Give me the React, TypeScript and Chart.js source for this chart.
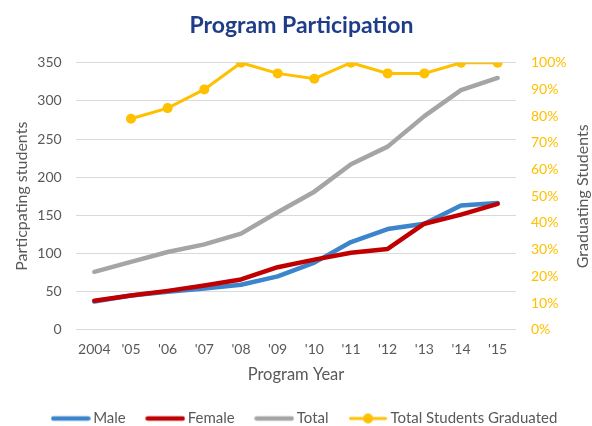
import React, { useEffect, useRef } from "react";
import { Chart, registerables } from "chart.js";

Chart.register(...registerables);

const years = ["2004", "'05", "'06", "'07", "'08", "'09", "'10", "'11", "'12", "'13", "'14", "'15"];
const male = [37, 45, 50, 54, 59, 70, 88, 115, 132, 139, 163, 166];
const female = [38, 45, 51, 58, 66, 82, 92, 101, 106, 139, 151, 165];
const total = [76, 89, 102, 112, 126, 154, 181, 217, 240, 280, 314, 330];
const graduated = [null, 0.79, 0.83, 0.9, 1.0, 0.96, 0.94, 1.0, 0.96, 0.96, 1.0, 1.0];

const seriesNames = ["Male", "Female", "Total", "Total Students Graduated"];
const seriesColors = ["#3C85CC", "#C00000", "#A5A5A5", "#FFC000"];

const FONT = "Lato, 'Open Sans', sans-serif";
const GRAY_TEXT = "#595959";

function legendSwatch(color: string, dot: boolean): HTMLCanvasElement {
  const c = document.createElement("canvas");
  c.width = 40;
  c.height = 12;
  const g = c.getContext("2d")!;
  g.strokeStyle = color;
  g.lineCap = "round";
  g.lineWidth = dot ? 3 : 4.5;
  g.beginPath();
  g.moveTo(2.5, 6);
  g.lineTo(37.5, 6);
  g.stroke();
  if (dot) {
    g.fillStyle = color;
    g.beginPath();
    g.arc(20, 6, 5, 0, Math.PI * 2);
    g.fill();
  }
  return c;
}

const rightTitlePlugin = {
  id: "rightTitle",
  afterLayout(chart: any) {
    if (chart.legend) chart.legend.left += 21;
    if (chart.titleBlock) chart.titleBlock.left += 11;
  },
  afterDraw(chart: any) {
    const s = chart.scales.y1;
    const area = chart.chartArea;
    const ctx = chart.ctx;
    ctx.save();
    ctx.translate(s.right - 9, (area.top + area.bottom) / 2);
    ctx.rotate(-Math.PI / 2);
    ctx.fillStyle = GRAY_TEXT;
    ctx.font = `16px ${FONT}`;
    ctx.textAlign = "center";
    ctx.textBaseline = "middle";
    ctx.fillText("Graduating Students", 0, 0);
    ctx.restore();
  },
};

export default function App() {
  const ref = useRef<HTMLCanvasElement | null>(null);

  useEffect(() => {
    document.body.style.margin = "0";
    const swatches = seriesColors.map((c, i) => legendSwatch(c, i === 3));
    const lineDs = (i: number, data: number[], order: number) => ({
      label: seriesNames[i],
      data,
      borderColor: seriesColors[i],
      backgroundColor: seriesColors[i],
      borderWidth: 4.5,
      pointRadius: 0,
      borderCapStyle: "round",
      borderJoinStyle: "round",
      yAxisID: "y",
      order,
    });
    const chart = new Chart(ref.current!, {
      type: "line",
      data: {
        labels: years,
        datasets: [
          lineDs(0, male, 1),
          lineDs(1, female, 0),
          lineDs(2, total, 2),
          {
            label: seriesNames[3],
            data: graduated,
            borderColor: seriesColors[3],
            backgroundColor: seriesColors[3],
            borderWidth: 3,
            pointRadius: 5,
            pointBorderWidth: 0,
            yAxisID: "y1",
            order: 0,
          },
        ] as any,
      },
      options: {
        responsive: false,
        animation: false,
        devicePixelRatio: 1,
        layout: { padding: 0 },
        plugins: {
          tooltip: { enabled: false },
          title: {
            display: true,
            text: "Program Participation",
            color: "#1F3C88",
            font: { family: FONT, size: 23, weight: "bold" },
            padding: { top: 12, bottom: 23.1 },
          },
          legend: {
            position: "bottom",
            labels: {
              usePointStyle: true,
              pointStyleWidth: 30,
              padding: 24.5,
              color: GRAY_TEXT,
              font: { family: FONT, size: 15 },
              generateLabels: (ch: any) =>
                ch.data.datasets.map((d: any, i: number) => ({
                  text: d.label,
                  fillStyle: d.borderColor,
                  strokeStyle: d.borderColor,
                  lineWidth: 0,
                  pointStyle: swatches[i],
                  hidden: false,
                  datasetIndex: i,
                  fontColor: GRAY_TEXT,
                })),
            },
          },
        },
        scales: {
          x: {
            offset: true,
            grid: { display: false },
            border: { display: false },
            ticks: { color: GRAY_TEXT, font: { family: FONT, size: 14 }, padding: 3, maxRotation: 0 },
            title: {
              display: true,
              text: "Program Year",
              color: GRAY_TEXT,
              font: { family: FONT, size: 16.5 },
              padding: { top: 0, bottom: 1.8 },
            },
            afterFit: (s: any) => {
              s.height = 56.7;
            },
          },
          y: {
            position: "left",
            min: 0,
            max: 350,
            ticks: { stepSize: 50, color: GRAY_TEXT, font: { family: FONT, size: 14 }, padding: 14.3 },
            grid: { color: "#D9D9D9", lineWidth: 1, drawTicks: false },
            border: { display: false },
            title: {
              display: true,
              text: "Particpating students",
              color: GRAY_TEXT,
              font: { family: FONT, size: 16 },
              padding: { top: 12.4, bottom: 0 },
            },
            afterFit: (s: any) => {
              s.width = 76;
            },
          },
          y1: {
            position: "right",
            min: 0,
            max: 1,
            ticks: {
              stepSize: 0.1,
              color: "#FFC000",
              font: { family: FONT, size: 14 },
              padding: 15,
              callback: (v: any) => Math.round(Number(v) * 100) + "%",
            },
            grid: { display: false, drawTicks: false },
            border: { display: false },
            afterFit: (s: any) => {
              s.width = 76;
            },
          },
        },
      },
      plugins: [rightTitlePlugin],
    });
    return () => chart.destroy();
  }, []);

  return (
    <div style={{ width: 592, height: 426, overflow: "hidden", background: "#fff" }}>
      <canvas ref={ref} width={592} height={436} style={{ display: "block", width: 592, height: 436 }} />
    </div>
  );
}
